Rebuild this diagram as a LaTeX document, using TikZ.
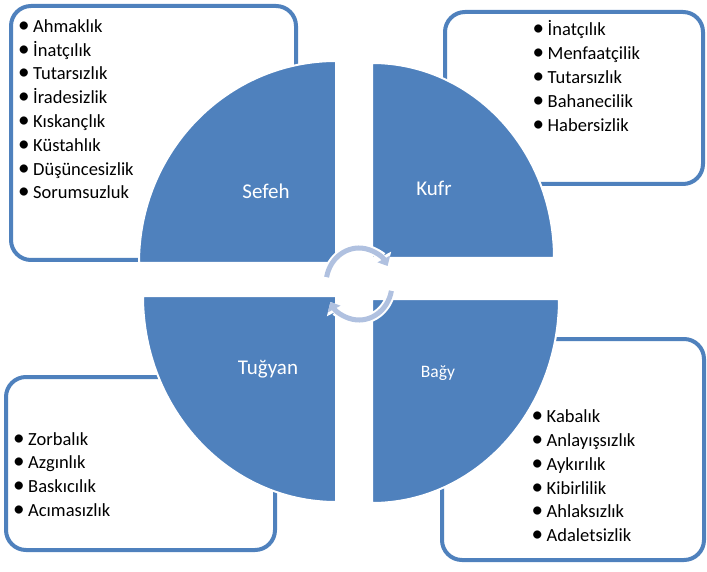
\documentclass[tikz,border=0pt]{standalone}
\usepackage{fontspec}
\setmainfont{Carlito}
\usepackage{tikz}
\usetikzlibrary{arrows.meta}

\definecolor{quarterblue}{HTML}{4F81BD}
\definecolor{cyclearrow}{HTML}{B0C1E0}
\newcommand{\bullettext}[1]{\makebox[12pt][l]{\kern-3pt\scalebox{1.25}{•}}#1}

\begin{document}
\begin{tikzpicture}[x=1pt, y=-1pt]
    \tikzset{
        list box/.style={
                draw=quarterblue, line width=4pt, fill=white, rounded corners=20pt
            },
        quarter/.style={
                fill=quarterblue, draw=white, line width=2pt
            },
        quarter label/.style={
                text=white, anchor=base, inner sep=0pt, font=\fontsize{21}{25}\selectfont
            },
        list item/.style={
                anchor=base west, inner sep=0pt, text=black, font=\fontsize{18.5}{24}\selectfont
            },
        cycle under/.style={
                white, line width=9pt, -{Triangle[width=19pt, length=11pt]}
            },
        cycle over/.style={
                cyclearrow, line width=5pt, -{Triangle[width=14pt, length=8pt]}
            }
    }
    \useasboundingbox (0,0) rectangle (707,572);

    % list boxes
    \draw[list box] (11,6) rectangle (296,260);
    \draw[list box] (445,12) rectangle (703,184);
    \draw[list box] (6,377) rectangle (275,550);
    \draw[list box] (442,339) rectangle (704,560);

    % quarters
    \draw[quarter] (336,263) -- (139,263) arc[start angle=180, end angle=270, x radius=197, y radius=202] -- cycle;
    \draw[quarter] (372,258) -- (372,63) arc[start angle=270, end angle=360, x radius=182, y radius=195] -- cycle;
    \draw[quarter] (336,296) -- (143,296) arc[start angle=180, end angle=90, x radius=193, y radius=206] -- cycle;
    \draw[quarter] (372,299) -- (559,299) arc[start angle=0, end angle=90, x radius=187, y radius=204] -- cycle;

    \node[quarter label] (sefeh) at (266,199) {Sefeh};
    \node[quarter label] (kufr) at (434,196) {Kufr};
    \node[quarter label] (tugyan) at (268,374) {Tuğyan};
    \node[quarter label, font=\fontsize{17.5}{21}\selectfont] (bagy) at (438,377) {Bağy};

    % cycle arrows
    \coordinate (hub) at (359,284);
    \draw[cycle under] ([shift={(191:33 and 36)}]hub) arc[start angle=191, end angle=330, x radius=33, y radius=36];
    \draw[cycle over] ([shift={(191:33 and 36)}]hub) arc[start angle=191, end angle=330, x radius=33, y radius=36];
    \draw[cycle under] ([shift={(11:33 and 36)}]hub) arc[start angle=11, end angle=150, x radius=33, y radius=36];
    \draw[cycle over] ([shift={(11:33 and 36)}]hub) arc[start angle=11, end angle=150, x radius=33, y radius=36];

    % lists
    \foreach \word [count=\i from 0] in {Ahmaklık, İnatçılık, Tutarsızlık, İradesizlik, Kıskançlık, Küstahlık, Düşüncesizlik, Sorumsuzluk}
        \node[list item] (sefeh-\i) at (21, {32.3+23.8*\i}) {\bullettext{\word}};
    \foreach \word [count=\i from 0] in {İnatçılık, Menfaatçilik, Tutarsızlık, Bahanecilik, Habersizlik}
        \node[list item] (kufr-\i) at (535.5, {36+23.8*\i}) {\bullettext{\word}};
    \foreach \word [count=\i from 0] in {Zorbalık, Azgınlık, Baskıcılık, Acımasızlık}
        \node[list item] (tugyan-\i) at (16, {445+23.9*\i}) {\bullettext{\word}};
    \foreach \word [count=\i from 0] in {Kabalık, Anlayışsızlık, Aykırılık, Kibirlilik, Ahlaksızlık, Adaletsizlik}
        \node[list item] (bagy-\i) at (534.5, {422.3+23.9*\i}) {\bullettext{\word}};
\end{tikzpicture}
\end{document}
